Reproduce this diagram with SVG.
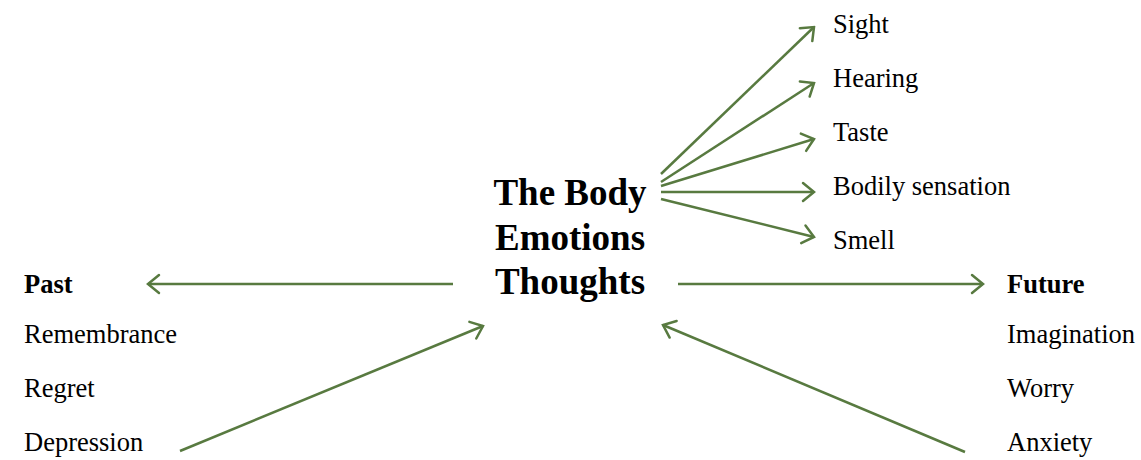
<svg xmlns="http://www.w3.org/2000/svg" width="1141" height="460" viewBox="0 0 1141 460">
<defs>
<style>
.t{font-family:"Liberation Serif","Times New Roman",serif;font-size:26.5px;fill:#000}
.b{font-weight:bold}
.title{font-family:"Liberation Serif","Times New Roman",serif;font-size:37px;font-weight:bold;fill:#000;text-anchor:middle}
.c{stroke:#587a40;stroke-width:2.5;fill:none;marker-end:url(#ah)}
</style>
<marker id="ah" viewBox="0 0 16 22" refX="14" refY="11" markerWidth="16" markerHeight="22" markerUnits="userSpaceOnUse" orient="auto">
<path d="M3,2 L14,11 L3,20" fill="none" stroke="#587a40" stroke-width="2.5" stroke-linecap="round" stroke-linejoin="miter"/>
</marker>
</defs>
<rect width="1141" height="460" fill="#fff"/>
<g id="center">
<text class="title" x="570" y="205">The Body</text>
<text class="title" x="570" y="250">Emotions</text>
<text class="title" x="570" y="294">Thoughts</text>
</g>
<g id="senses">
<text class="t" x="833" y="33">Sight</text>
<text class="t" x="833" y="87">Hearing</text>
<text class="t" x="833" y="141">Taste</text>
<text class="t" x="833" y="195">Bodily sensation</text>
<text class="t" x="833" y="249">Smell</text>
</g>
<g id="past">
<text class="t b" x="24" y="293">Past</text>
<text class="t" x="24" y="343">Remembrance</text>
<text class="t" x="24" y="397">Regret</text>
<text class="t" x="24" y="451">Depression</text>
</g>
<g id="future">
<text class="t b" x="1007" y="293">Future</text>
<text class="t" x="1007" y="343">Imagination</text>
<text class="t" x="1007" y="397">Worry</text>
<text class="t" x="1007" y="451">Anxiety</text>
</g>
<g id="connectors">
<line class="c" x1="661" y1="174" x2="814" y2="27"/>
<line class="c" x1="661" y1="182" x2="814" y2="83"/>
<line class="c" x1="661" y1="186" x2="814" y2="139"/>
<line class="c" x1="661" y1="192" x2="814" y2="192"/>
<line class="c" x1="661" y1="199" x2="814" y2="237"/>
<line class="c" x1="453" y1="284" x2="148" y2="284"/>
<line class="c" x1="678" y1="284" x2="983" y2="284"/>
<line class="c" x1="180" y1="451" x2="483" y2="326"/>
<line class="c" x1="965" y1="452" x2="663" y2="325"/>
</g>
</svg>
